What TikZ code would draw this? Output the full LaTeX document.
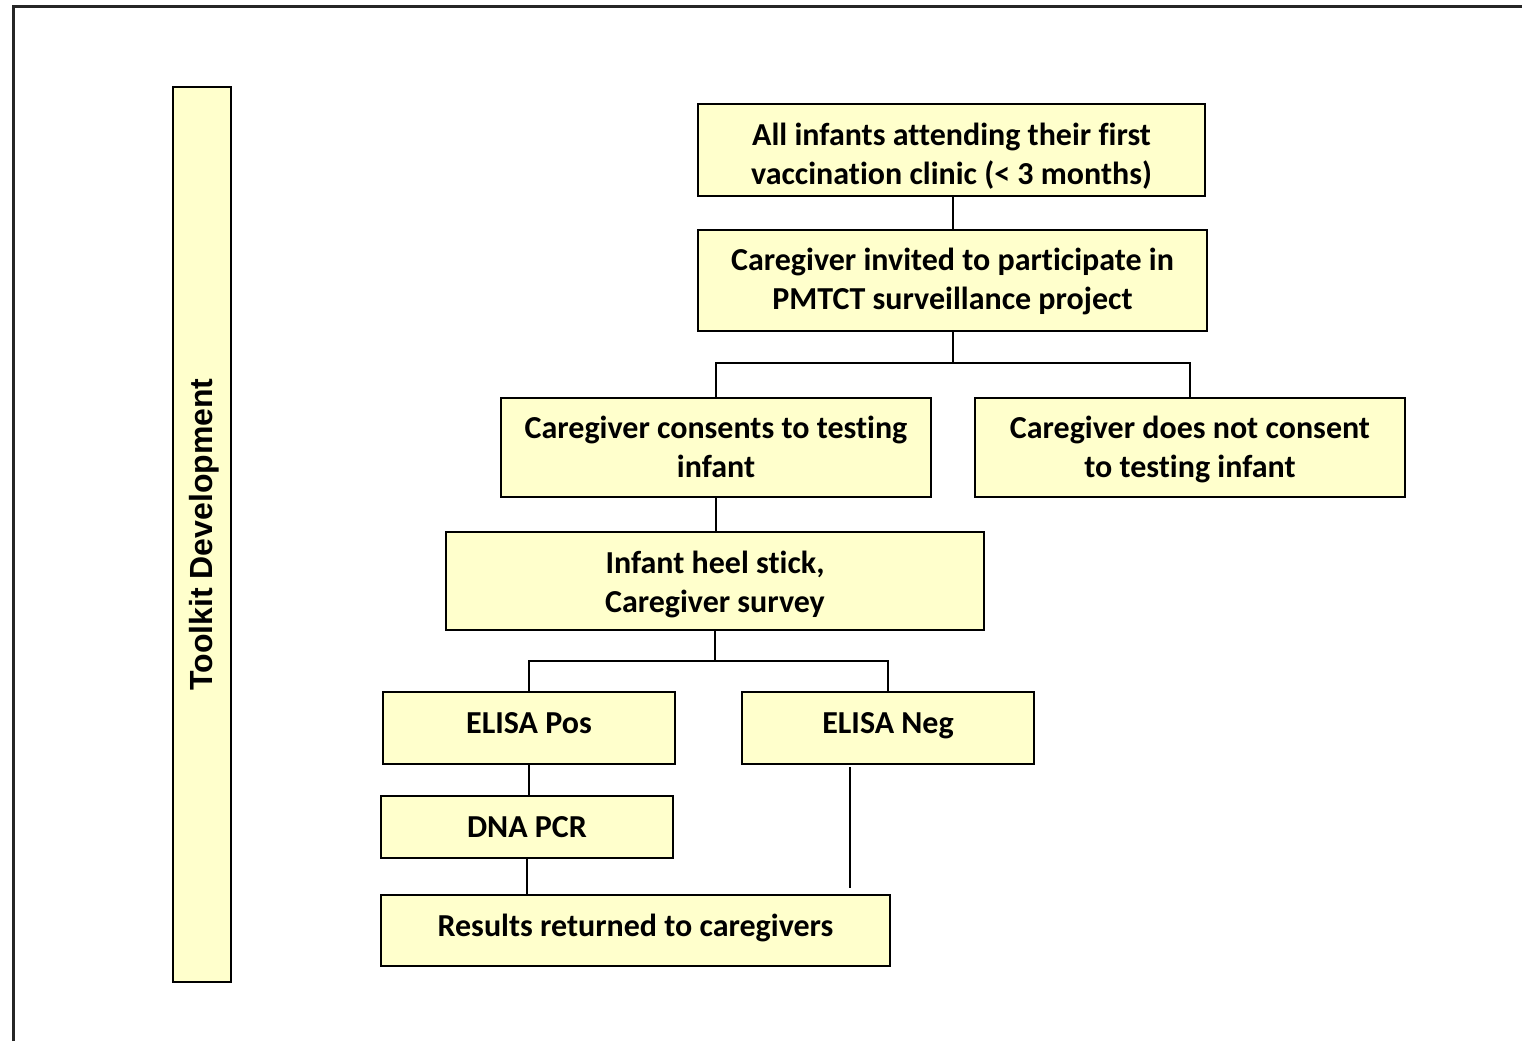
\documentclass[tikz,border=0pt]{standalone}
\usepackage{fontspec}
\setmainfont{Carlito}[Ligatures={NoCommon}]
\newfontfamily\arialfont{Liberation Sans}
\definecolor{boxfill}{HTML}{FFFFCC}
\newcommand\tshift[2]{\raisebox{#1}[\height][\depth]{\begin{tabular}{@{}c@{}}#2\end{tabular}}}
\begin{document}
\begin{tikzpicture}[x=1pt,y=-1pt,
  box/.style={draw, line width=2pt, fill=boxfill, align=center, inner sep=0pt,
    font=\fontsize{32pt}{39pt}\selectfont\bfseries},
  conn/.style={draw, line width=1.4pt},
  frame/.style={draw=black!85, line width=3pt}]
\useasboundingbox (0,0) rectangle (1522,1041);
\draw[frame] (13,1041) -- (13,6.5) -- (1522,6.5);

\node[box, minimum width=895pt, minimum height=58pt, rotate=90,
  font=\fontsize{32pt}{38pt}\selectfont\arialfont\bfseries] (tk) at (202,534.5)
  {\tshift{-2.5pt}{Toolkit Development}};

\node[box, minimum width=507pt, minimum height=92pt] (a) at (951.5,150)
  {\tshift{-7pt}{All infants attending their first\\vaccination clinic (< 3 months)}};
\node[box, minimum width=509pt, minimum height=101pt] (b) at (952.5,280.5)
  {\tshift{-2pt}{Caregiver invited to participate in\\PMTCT surveillance project}};
\node[box, minimum width=430pt, minimum height=99pt] (c) at (716,447.5)
  {\tshift{-3pt}{Caregiver consents to testing\\infant}};
\node[box, minimum width=430pt, minimum height=99pt] (d) at (1190,447.5)
  {\tshift{-2.5pt}{Caregiver does not consent\\to testing infant}};
\node[box, minimum width=538pt, minimum height=98pt] (e) at (715,581)
  {\tshift{-4pt}{Infant heel stick,\\Caregiver survey}};
\node[box, minimum width=292pt, minimum height=72pt] (f) at (529,728)
  {\tshift{2pt}{ELISA Pos}};
\node[box, minimum width=292pt, minimum height=72pt] (g) at (888,728)
  {\tshift{2pt}{ELISA Neg}};
\node[box, minimum width=292pt, minimum height=62pt] (h) at (527,827)
  {\tshift{-3pt}{DNA PCR}};
\node[box, minimum width=509pt, minimum height=71pt] (i) at (635.5,930.5)
  {\tshift{2pt}{Results returned to caregivers}};

\coordinate (bus1) at (953,363);
\coordinate (bus2) at (715,661);
\coordinate (negtop) at (850,767);
\coordinate (negbot) at (850,888);

\draw[conn] (a.south -| bus1) -- (b.north -| bus1);
\draw[conn] (b.south -| bus1) -- (bus1);
\draw[conn] (c.north) |- (bus1) -| (d.north);
\draw[conn] (c.south) -- (c.south |- e.north);
\draw[conn] (e.south) -- (bus2);
\draw[conn] (f.north) |- (bus2) -| (g.north);
\draw[conn] (f.south) -- (f.south |- h.north);
\draw[conn] (h.south) -- (h.south |- i.north);
\draw[conn] (negtop) -- (negbot);
\end{tikzpicture}
\end{document}
